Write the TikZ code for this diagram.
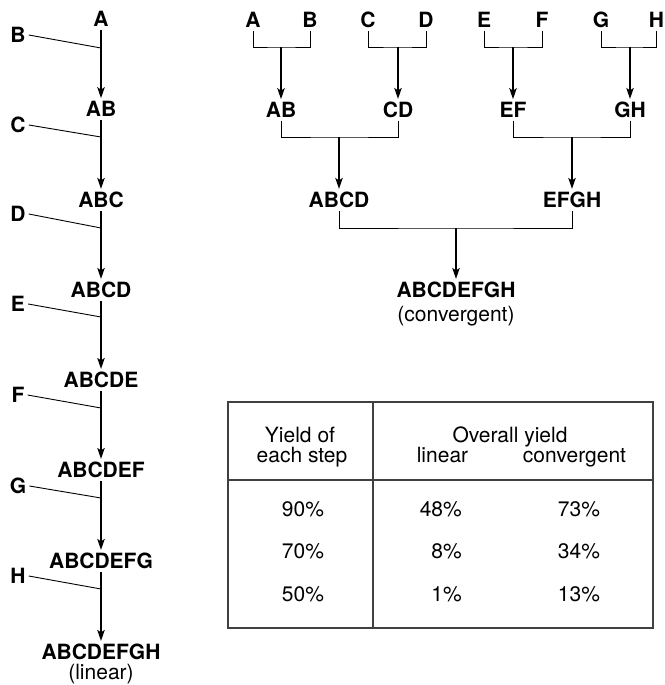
\documentclass[tikz,border=0pt]{standalone}
\usepackage{fontspec}
\setmainfont{TeX Gyre Heros}
\usetikzlibrary{arrows.meta}

\begin{document}
\begin{tikzpicture}[x=1pt, y=-1pt,
  frag/.style={font=\fontsize{21}{24}\selectfont\bfseries, inner sep=3pt},
  note/.style={font=\fontsize{21}{24}\selectfont, inner sep=2pt},
  cell/.style={font=\fontsize{21}{24}\selectfont, inner sep=0pt},
  arr/.style={line width=1.3pt, -{Stealth[length=11pt, width=7.5pt, inset=2.5pt]}},
  link/.style={line width=0.9pt},
  tabline/.style={line width=1.2pt, draw=black!75}]
\useasboundingbox (0,0) rectangle (664,685);
% linear route
\node[frag] (lA) at (101,19) {A};
\node[frag] (lAB) at (101,109) {AB};
\node[frag] (lABC) at (101,200) {ABC};
\node[frag] (lABCD) at (101,290) {ABCD};
\node[frag] (lABCDE) at (101,380) {ABCDE};
\node[frag] (lABCDEF) at (101,470) {ABCDEF};
\node[frag] (lABCDEFG) at (101,561) {ABCDEFG};
\node[frag] (lABCDEFGH) at (101,652) {ABCDEFGH};
\node[note] (lin) at (101,674) {(linear)};
% fragments added one at a time
\node[frag] (sB) at (18,35) {B};
\node[frag] (sC) at (18,125) {C};
\node[frag] (sD) at (18,214) {D};
\node[frag] (sE) at (18,304) {E};
\node[frag] (sF) at (18,395) {F};
\node[frag] (sG) at (18,486) {G};
\node[frag] (sH) at (18,576) {H};
\coordinate (jB) at (101,48);
\coordinate (jC) at (101,137);
\coordinate (jD) at (101,228);
\coordinate (jE) at (101,317);
\coordinate (jF) at (101,408);
\coordinate (jG) at (101,498);
\coordinate (jH) at (101,589);
\draw[link] (sB.east) -- (jB);
\draw[link] (sC.east) -- (jC);
\draw[link] (sD.east) -- (jD);
\draw[link] (sE.east) -- (jE);
\draw[link] (sF.east) -- (jF);
\draw[link] (sG.east) -- (jG);
\draw[link] (sH.east) -- (jH);
\draw[arr] (lA.south) -- (lAB.north);
\draw[arr] (lAB.south) -- (lABC.north);
\draw[arr] (lABC.south) -- (lABCD.north);
\draw[arr] (lABCD.south) -- (lABCDE.north);
\draw[arr] (lABCDE.south) -- (lABCDEF.north);
\draw[arr] (lABCDEF.south) -- (lABCDEFG.north);
\draw[arr] (lABCDEFG.south) -- (lABCDEFGH.north);
% end of linear route

% convergent route
\node[frag] (cA) at (253,20) {A};
\node[frag] (cB) at (310,20) {B};
\node[frag] (cC) at (368,20) {C};
\node[frag] (cD) at (426,20) {D};
\node[frag] (cE) at (484,20) {E};
\node[frag] (cF) at (542,20) {F};
\node[frag] (cG) at (601,20) {G};
\node[frag] (cH) at (656.5,20) {H};
\node[frag] (cAB) at (281,110) {AB};
\node[frag] (cCD) at (398,110) {CD};
\node[frag] (cEF) at (513,110) {EF};
\node[frag] (cGH) at (630,110) {GH};
\node[frag] (cABCD) at (339,200) {ABCD};
\node[frag] (cEFGH) at (572,200) {EFGH};
\node[frag] (cAll) at (456,290) {ABCDEFGH};
\node[note] (conv) at (456,316) {(convergent)};
\coordinate (kAB) at (281,47);
\coordinate (kCD) at (398,47);
\coordinate (kEF) at (513,47);
\coordinate (kGH) at (630,47);
\coordinate (kABCD) at (339,137);
\coordinate (kEFGH) at (572,137);
\coordinate (kAll) at (456,228);
\draw[link] (cA.south) |- (kAB) -| (cB.south);
\draw[link] (cC.south) |- (kCD) -| (cD.south);
\draw[link] (cE.south) |- (kEF) -| (cF.south);
\draw[link] (cG.south) |- (kGH) -| (cH.south);
\draw[arr] (kAB) -- (cAB.north);
\draw[arr] (kCD) -- (cCD.north);
\draw[arr] (kEF) -- (cEF.north);
\draw[arr] (kGH) -- (cGH.north);
\draw[link] (cAB.south) |- (kABCD) -| (cCD.south);
\draw[link] (cEF.south) |- (kEFGH) -| (cGH.south);
\draw[arr] (kABCD) -- (cABCD.north);
\draw[arr] (kEFGH) -- (cEFGH.north);
\draw[link] (cABCD.south) |- (kAll) -| (cEFGH.south);
\draw[arr] (kAll) -- (cAll.north);
% end of convergent route

% yield table
\draw[tabline] (228,402) rectangle (653,628);
\draw[tabline] (373,402) -- (373,628);
\draw[tabline] (228,480) -- (653,480);
\node[cell, anchor=base] (yield) at (300,442) {Yield of};
\node[cell, anchor=base] (step) at (302,462) {each step};
\node[cell, anchor=base] (overall) at (510,442) {Overall yield};
\node[cell, anchor=base] (linear) at (442.5,462) {linear};
\node[cell, anchor=base] (convergent) at (574.5,462) {convergent};
\node[cell] (s90) at (303,509) {90\%};
\node[cell] (s70) at (303,551) {70\%};
\node[cell] (s50) at (303,594) {50\%};
\node[cell, anchor=east] (l48) at (462,509) {48\%};
\node[cell, anchor=east] (l8) at (462,551) {8\%};
\node[cell, anchor=east] (l1) at (462,594) {1\%};
\node[cell] (c73) at (579,509) {73\%};
\node[cell] (c34) at (579,551) {34\%};
\node[cell] (c13) at (579,594) {13\%};
\end{tikzpicture}
\end{document}
